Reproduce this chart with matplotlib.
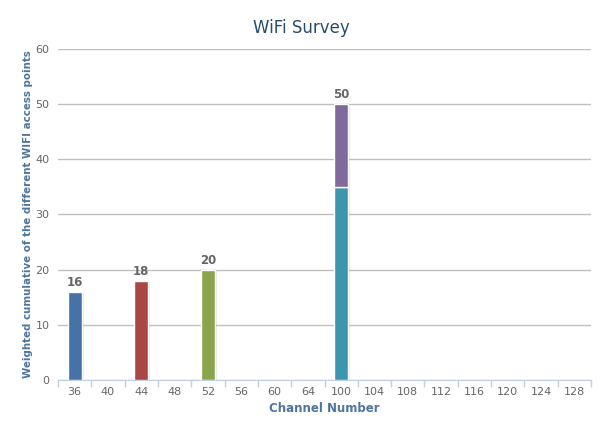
import matplotlib
matplotlib.use("Agg")
import matplotlib.pyplot as plt
import numpy as np

channels = ["36", "40", "44", "48", "52", "56", "60", "64",
            "100", "104", "108", "112", "116", "120", "124", "128"]

# one series per access point group (Highcharts stacks first series on top)
series_a = [16, 0, 0, 0, 0, 0, 0, 0, 0, 0, 0, 0, 0, 0, 0, 0]
series_b = [0, 0, 18, 0, 0, 0, 0, 0, 0, 0, 0, 0, 0, 0, 0, 0]
series_c = [0, 0, 0, 0, 20, 0, 0, 0, 0, 0, 0, 0, 0, 0, 0, 0]
series_d = [0, 0, 0, 0, 0, 0, 0, 0, 15, 0, 0, 0, 0, 0, 0, 0]
series_e = [0, 0, 0, 0, 0, 0, 0, 0, 35, 0, 0, 0, 0, 0, 0, 0]

colors = ["#4572A7", "#AA4643", "#89A54E", "#80699B", "#3D96AE"]
all_series = [series_a, series_b, series_c, series_d, series_e]

fig = plt.figure(figsize=(6.02, 4.22), dpi=100)
ax = fig.add_axes([58 / 602, 42 / 422, 533 / 602, 331 / 422])

x = np.arange(len(channels))
width = 0.42

# stack from last series at the bottom to first on top
bottom = np.zeros(len(channels))
for vals, col in reversed(list(zip(all_series, colors))):
    vals = np.array(vals, dtype=float)
    mask = vals > 0
    # soft shadow
    ax.bar(x[mask] + 0.06, vals[mask], width, bottom=bottom[mask] - 0.25,
           color="#000000", alpha=0.10, linewidth=0, zorder=2)
    ax.bar(x[mask], vals[mask], width, bottom=bottom[mask], color=col,
           edgecolor="white", linewidth=1, zorder=3)
    bottom += vals

totals = bottom
for xi, t in zip(x, totals):
    if t > 0:
        ax.text(xi, t + 0.5, f"{int(t)}", ha="center", va="bottom",
                fontsize=8.5, fontweight="bold", color="#666666", zorder=4)

ax.set_xlim(-0.5, len(channels) - 0.5)
ax.set_ylim(0, 60)
ax.set_yticks(range(0, 61, 10))
ax.yaxis.grid(True, color="#C0C0C0", linewidth=1)
ax.set_axisbelow(True)

ax.set_xticks(x)
ax.set_xticklabels(channels)
ax.set_xticks(np.arange(-0.5, len(channels), 1), minor=True)
ax.tick_params(axis="x", which="major", length=0, labelsize=8,
               labelcolor="#666666", pad=5)
ax.tick_params(axis="x", which="minor", length=5, color="#C0D0E0", width=1)
ax.tick_params(axis="y", length=0, labelsize=8, labelcolor="#666666", pad=6)

for side in ["top", "right", "left"]:
    ax.spines[side].set_visible(False)
ax.spines["bottom"].set_color("#C0D0E0")

ax.set_xlabel("Channel Number", fontsize=8.5, fontweight="bold",
              color="#4D759E", labelpad=4)
ax.set_ylabel("Weighted cumulative of the different WIFI access points",
              fontsize=7.4, fontweight="bold", color="#4D759E")
ax.yaxis.set_label_coords(-0.047, 0.5)
fig.suptitle("WiFi Survey", fontsize=12, color="#274B6D", y=0.955)

fig.savefig("out.png", dpi=100)
